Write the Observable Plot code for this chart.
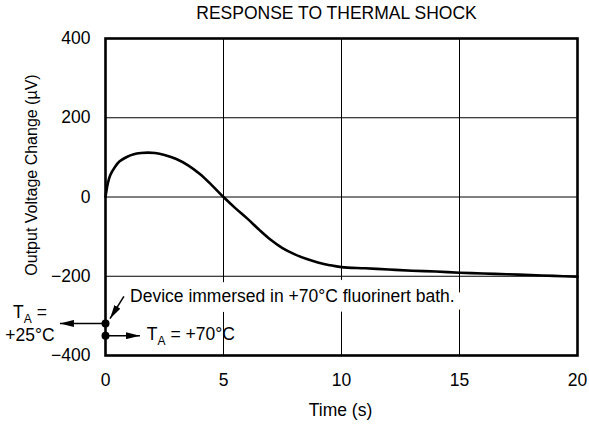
<!DOCTYPE html>
<html>
<head>
<meta charset="utf-8">
<script src="https://cdn.jsdelivr.net/npm/d3@7"></script>
<script src="https://cdn.jsdelivr.net/npm/@observablehq/plot@0.6"></script>
<style>
  html, body { margin: 0; padding: 0; background: white; }
</style>
</head>
<body>
<div id="chart"></div>
<script>
// ---- data ----
const times = [0, 0.1, 0.2, 0.4, 0.6, 0.9, 1.2, 1.5, 1.8, 2.1, 2.5, 3.0, 3.5, 4.0, 4.5, 5.0, 5.5, 6.0, 6.5, 7.0, 7.5, 8.0, 8.5, 9.0, 9.5, 10, 11, 12, 13, 14, 15, 16, 17, 18, 19, 20];
const voltages = [0, 35, 55, 76, 90, 101, 108, 111, 112, 111, 106, 96, 80, 58, 30, 0, -28, -54, -82, -108, -129, -144, -156, -165, -172, -177, -180, -183, -186, -188, -191, -193, -195, -197, -199, -201];

const xTicks = [0, 5, 10, 15, 20];
const yTicks = [-400, -200, 0, 200, 400];

const titleText = "RESPONSE TO THERMAL SHOCK";
const xLabel = "Time (s)";
const yLabel = "Output Voltage Change (µV)";

// annotation markers (data units)
const dotX = [0, 0];
const dotY = [-319, -350];
const arrowX1 = [0, 0, 0.78];
const arrowY1 = [-319, -350, -251];
const arrowX2 = [-1.93, 1.46, 0.19];
const arrowY2 = [-319, -350, -307];

const noteTexts = ["Device immersed in +70°C fluorinert bath.", "T_A = +70°C"];
const noteX = [1.04, 1.75];
const noteY = [-251, -346];

const leftTexts = ["T_A =", "+25°C"];
const leftX = [-3.2, -3.2];
const leftY = [-292, -350];

const curve = times.map((t, i) => ({t, v: voltages[i]}));
const dots = dotX.map((x, i) => ({x, y: dotY[i]}));
const arrows = arrowX1.map((x1, i) => ({x1, y1: arrowY1[i], x2: arrowX2[i], y2: arrowY2[i]}));
const notes = noteTexts.map((s, i) => ({s, x: noteX[i], y: noteY[i]}));
const lefts = leftTexts.map((s, i) => ({s, x: leftX[i], y: leftY[i]}));

const FONT = "'Liberation Sans', Arial, Helvetica, sans-serif";
const FS = 17.5;

const chart = Plot.plot({
  width: 589,
  height: 426,
  marginLeft: 105,
  marginRight: 12,
  marginTop: 38,
  marginBottom: 71,
  style: {fontFamily: FONT, fontSize: FS + "px", color: "black", background: "white"},
  x: {domain: [0, 20], ticks: xTicks, tickSize: 0, tickPadding: 18, label: null, tickFormat: d => String(d)},
  y: {domain: [-400, 400], ticks: yTicks, tickSize: 0, tickPadding: 15, label: null,
      tickFormat: d => d < 0 ? "\u2212" + Math.abs(d) : String(d)},
  marks: [
    Plot.ruleX(xTicks, {stroke: "black", strokeWidth: 1}),
    Plot.ruleY(yTicks, {stroke: "black", strokeWidth: 1}),
    Plot.text(notes.slice(0, 1), {x: "x", y: "y", text: "s", textAnchor: "start", fontSize: FS,
      stroke: "white", strokeWidth: 20, fill: "white"}),
    Plot.line(curve, {x: "t", y: "v", stroke: "black", strokeWidth: 2.6, curve: "catmull-rom"}),
    Plot.frame({stroke: "black", strokeWidth: 2.6}),
    Plot.text(notes, {x: "x", y: "y", text: "s", textAnchor: "start", fontSize: FS, fill: "black"}),
    Plot.text(lefts, {x: "x", y: "y", text: "s", textAnchor: "middle", fontSize: FS, fill: "black"}),
    Plot.link(arrows, {x1: "x1", y1: "y1", x2: "x2", y2: "y2", stroke: "black", strokeWidth: 1.5, markerEnd: "arrow"}),
    Plot.dot(dots, {x: "x", y: "y", r: 4, fill: "black", stroke: "none"}),
    Plot.text([titleText], {text: d => d, frameAnchor: "top", lineAnchor: "middle", dy: -25, dx: -5, fontSize: FS}),
    Plot.text([xLabel], {text: d => d, frameAnchor: "bottom", lineAnchor: "middle", dy: 55, dx: -1, fontSize: FS}),
    Plot.text([yLabel], {text: d => d, frameAnchor: "left", textAnchor: "middle", lineAnchor: "middle",
      rotate: -90, dx: -74, dy: -22, fontSize: 16})
  ]
});

// filled arrowheads
d3.select(chart).selectAll("marker").each(function() {
  const m = d3.select(this);
  m.attr("viewBox", "-14 -3.5 14 7")
   .attr("markerUnits", "userSpaceOnUse")
   .attr("markerWidth", 14)
   .attr("markerHeight", 7)
   .attr("refX", 0).attr("refY", 0)
   .attr("fill", "black").attr("stroke", "none");
  m.selectAll("*").remove();
  m.append("path").attr("d", "M-14,-3.5L0,0L-14,3.5Z").attr("fill", "black").attr("stroke", "none");
});

// subscripts for T_A
d3.select(chart).selectAll("text").each(function() {
  const el = this;
  if (el.childElementCount === 0 && el.textContent.includes("T_A")) {
    const rest = el.textContent.split("T_A")[1];
    el.textContent = "T";
    d3.select(el).append("tspan").attr("dy", 5).attr("font-size", 12).text("A");
    d3.select(el).append("tspan").attr("dy", -5).text(rest);
  }
});

document.getElementById("chart").appendChild(chart);
</script>
</body>
</html>
